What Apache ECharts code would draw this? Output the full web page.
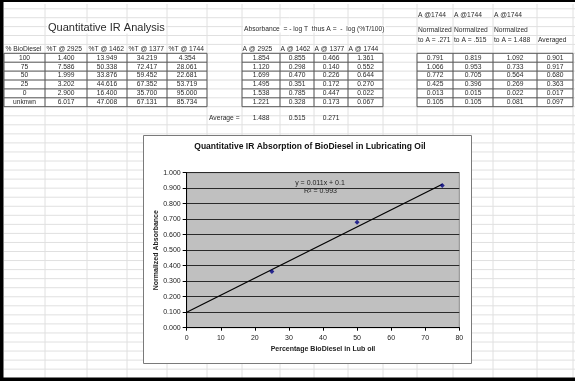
<!DOCTYPE html>
<html><head><meta charset="utf-8">
<script src="https://cdn.jsdelivr.net/npm/echarts@6/dist/echarts.min.js"></script>
<style>html,body{margin:0;padding:0;background:#fff}#c{width:575px;height:381px}</style>
</head><body><div id="c"></div>
<script>
// ---- spreadsheet data ----
const biodieselLevels = ['100','75','50','25','0','unknwn'];
const transHeaders = ['% BioDiesel','%T @ 2925','%T @ 1462','%T @ 1377','%T @ 1744'];
const t2925 = ['1.400','7.586','1.999','3.202','2.900','6.017'];
const t1462 = ['13.949','50.338','33.876','44.616','16.400','47.008'];
const t1377 = ['34.219','72.417','59.452','67.352','35.700','67.131'];
const t1744 = ['4.354','28.061','22.681','53.719','95.000','85.734'];
const absHeaders = ['A @ 2925','A @ 1462','A @ 1377','A @ 1744'];
const a2925 = ['1.854','1.120','1.699','1.495','1.538','1.221'];
const a1462 = ['0.855','0.298','0.470','0.351','0.785','0.328'];
const a1377 = ['0.466','0.140','0.226','0.172','0.447','0.173'];
const a1744 = ['1.361','0.552','0.644','0.270','0.022','0.067'];
const averageLabel = 'Average =';
const absAverages = ['1.488','0.515','0.271'];
const normHeader1 = ['A @1744','A @1744','A @1744',''];
const normHeader2 = ['Normalized','Normalized','Normalized',''];
const normHeader3 = ['to A = .271','to A = .515','to A = 1.488','Averaged'];
const norm271 = ['0.791','1.066','0.772','0.425','0.013','0.105'];
const norm515 = ['0.819','0.953','0.705','0.396','0.015','0.105'];
const norm1488 = ['1.092','0.733','0.564','0.269','0.022','0.081'];
const normAvg = ['0.901','0.917','0.680','0.363','0.017','0.097'];
const sheetTitle = 'Quantitative IR Analysis';
const absNote = 'Absorbance  = - log T  thus A =  -  log (%T/100)';
// ---- chart data ----
const chartTitle = 'Quantitative IR Absorption of BioDiesel in Lubricating Oil';
const xAxisTitle = 'Percentage BioDiesel in Lub oil';
const yAxisTitle = 'Normalized Absorbance';
const pctBiodiesel = [25, 50, 75];
const normalizedAbs = [0.363, 0.680, 0.917];
const trendX = [0, 75];
const trendY = [0.1, 0.925];
const trendEq = 'y = 0.011x + 0.1';
const trendR2 = 'R² = 0.993';

// ---- layout ----
const FONT = "'Liberation Sans', Arial, sans-serif";
const CELL = '6.7px ' + FONT;
const colX = [4,45,87,127,167,207,242,280,314,348,383,417,453,493,537,573];
const tableTop = 53.3, rowH = 8.9, nRows = 6;
const rowLines = [];
for (let k = 5; k >= 1; k--) rowLines.push(tableTop - rowH * k);
for (let k = 0; k <= nRows; k++) rowLines.push(tableTop + rowH * k);
for (let y = tableTop + rowH * nRows + 9.05; y < 378; y += 9.05) rowLines.push(y);

const els = [];
function line(x1, y1, x2, y2, color, z) {
  els.push({type:'line', z: z, silent:true, shape:{x1, y1, x2, y2}, style:{stroke: color, lineWidth: 1}});
}
function txt(x, y, s, o) {
  o = o || {};
  const st = {text: s, x, y, fill: o.fill || '#2a2a2a', font: o.font || CELL,
    align: o.align || 'center', verticalAlign: 'middle', textAlign: o.align || 'center', textVerticalAlign: 'middle'};
  if (o.bg) { st.backgroundColor = '#fff'; st.padding = [0, 1]; }
  els.push({type:'text', z: o.z || -18, silent:true, style: st});
}
// sheet grid
rowLines.forEach(y => line(4, y, 575, y, '#e0e0e0', -20));
colX.slice(1).forEach(x => line(x, 4, x, 378, '#e0e0e0', -20));
// tables
function table(c0, c1) {
  const yb = tableTop + rowH * nRows;
  for (let k = 0; k <= nRows; k++) line(colX[c0], tableTop + rowH * k, colX[c1], tableTop + rowH * k, '#5a5a5a', -19);
  for (let j = c0; j <= c1; j++) line(colX[j], tableTop, colX[j], yb, '#5a5a5a', -19);
}
table(0, 5); table(6, 10); table(11, 15);
function cc(j) { return (colX[j] + colX[j + 1]) / 2; }
function rc(i) { return tableTop + rowH * (i + 0.5); }
// texts
txt(47, 28, sheetTitle, {align:'left', font:'11px ' + FONT, bg:true});
txt(243, 29, absNote, {align:'left', bg:true});
transHeaders.forEach((h, j) => txt(colX[j] + 1.5, 48.8, h, {align:'left'}));
absHeaders.forEach((h, j) => txt(colX[j + 6] + 0.5, 48.8, h, {align:'left'}));
normHeader1.forEach((h, j) => txt(colX[j + 11] + 1, 14.8, h, {align:'left'}));
normHeader2.forEach((h, j) => txt(colX[j + 11] + 1, 30.5, h, {align:'left'}));
normHeader3.forEach((h, j) => txt(colX[j + 11] + 1, 40.3, h, {align:'left'}));
[biodieselLevels, t2925, t1462, t1377, t1744].forEach((col, j) => col.forEach((v, i) => txt(cc(j), rc(i), v)));
[a2925, a1462, a1377, a1744].forEach((col, j) => col.forEach((v, i) => txt(cc(j + 6), rc(i), v)));
[norm271, norm515, norm1488, normAvg].forEach((col, j) => col.forEach((v, i) => txt(cc(j + 11), rc(i), v)));
txt(209, 118, averageLabel, {align:'left'});
absAverages.forEach((v, j) => txt(cc(j + 6), 118, v));
// outer black frame
els.push({type:'rect', z:-17, silent:true, shape:{x:0, y:0, width:3.5, height:381}, style:{fill:'#000'}});
els.push({type:'rect', z:-17, silent:true, shape:{x:0, y:0, width:575, height:2}, style:{fill:'#000'}});
els.push({type:'rect', z:-17, silent:true, shape:{x:0, y:377.5, width:575, height:3.5}, style:{fill:'#000'}});
// chart box
els.push({type:'rect', z:-10, silent:true, shape:{x:143.5, y:135.5, width:328, height:228}, style:{fill:'#fff', stroke:'#7a7a7a', lineWidth:1}});
txt(310, 147, chartTitle, {font:'bold 8.5px ' + FONT, fill:'#111', z:5});
txt(320, 183.3, trendEq, {fill:'#222', font:'7px ' + FONT, z:5});
txt(320.5, 190.8, trendR2, {fill:'#222', font:'7px ' + FONT, z:5});

const chart = echarts.init(document.getElementById('c'), null, {renderer:'canvas'});
chart.setOption({
  animation: false,
  graphic: {elements: els},
  grid: {left: 186.7, right: 575 - 459.3, top: 172.7, bottom: 381 - 327.7, show: true,
    backgroundColor: '#c0c0c0', borderColor: '#8a8a8a', borderWidth: 1, z: 0},
  xAxis: {type: 'value', min: 0, max: 80, interval: 10,
    name: xAxisTitle, nameLocation: 'middle', nameGap: 18,
    nameTextStyle: {fontFamily: FONT, fontSize: 7, fontWeight: 'bold', color: '#222'},
    axisLine: {show: true, onZero: false, lineStyle: {color: '#000', width: 1}},
    axisTick: {show: true, length: 3, lineStyle: {color: '#000'}},
    axisLabel: {fontFamily: FONT, fontSize: 7, color: '#222', margin: 7},
    splitLine: {show: false}},
  yAxis: {type: 'value', min: 0, max: 1, interval: 0.1,
    name: yAxisTitle, nameLocation: 'middle', nameGap: 26, nameRotate: 90,
    nameTextStyle: {fontFamily: FONT, fontSize: 7, fontWeight: 'bold', color: '#222'},
    axisLine: {show: true, lineStyle: {color: '#000', width: 1}},
    axisTick: {show: true, length: 4, lineStyle: {color: '#000'}},
    axisLabel: {fontFamily: FONT, fontSize: 7, color: '#222', margin: 6, formatter: v => v.toFixed(3)},
    splitLine: {show: true, lineStyle: {color: '#2a2a2a', width: 1}}},
  series: [
    {type: 'line', data: trendX.map((x, i) => [x, trendY[i]]), showSymbol: false, symbol: 'none',
      lineStyle: {color: '#000', width: 1.2}, z: 3, silent: true},
    {type: 'scatter', data: pctBiodiesel.map((x, i) => [x, normalizedAbs[i]]), symbol: 'diamond', symbolSize: 5,
      itemStyle: {color: '#000080'}, z: 4}
  ]
});
</script></body></html>
